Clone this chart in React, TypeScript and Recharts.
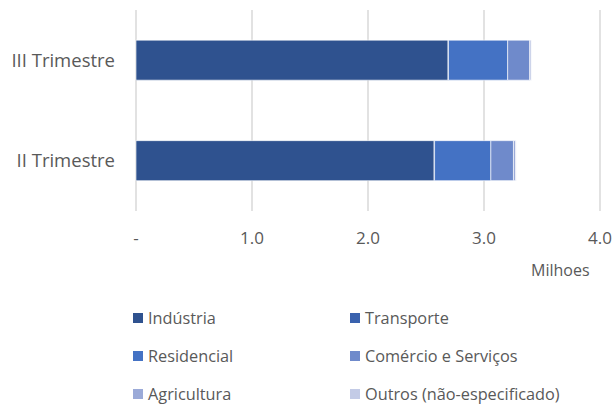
import React from "react";
import { BarChart, Bar, XAxis, YAxis, CartesianGrid } from "recharts";

const categories = ["III Trimestre", "II Trimestre"];
const seriesNames = ["Indústria", "Transporte", "Residencial", "Comércio e Serviços", "Agricultura", "Outros (não-especificado)"];
const seriesKeys = ["ind", "tra", "res", "com", "agr", "out"];
const seriesColors = ["#2F528F", "#3A62AE", "#4472C4", "#6F8ACB", "#9BAAD8", "#C3CBE6"];
const industria = [2.69, 2.57];
const transporte = [0.004, 0.004];
const residencial = [0.51, 0.485];
const comercio = [0.19, 0.195];
const agricultura = [0.012, 0.02];
const outros = [0.003, 0.003];
const xTicks = [0, 1, 2, 3, 4];

const seriesValues = [industria, transporte, residencial, comercio, agricultura, outros];
const data = categories.map((c, i) => {
  const row: any = { name: c };
  seriesKeys.forEach((k, j) => (row[k] = seriesValues[j][i]));
  return row;
});

const FONT = "'Open Sans', Lato, sans-serif";
const GREY = "#595959";

export default function App() {
  return (
    <div style={{ position: "absolute", left: 0, top: 0, width: 614, height: 404, background: "#fff", fontFamily: FONT }}>
      <BarChart
        width={614}
        height={290}
        data={data}
        layout="vertical"
        margin={{ top: 10, right: 14, bottom: 0, left: 0 }}
        barCategoryGap="30%"
      >
        <CartesianGrid horizontal={false} stroke="#D9D9D9" strokeWidth={1.5} />
        <XAxis
          type="number"
          domain={[0, 4]}
          ticks={xTicks}
          axisLine={false}
          tickLine={false}
          height={79}
          tickMargin={15}
          tick={{ fill: GREY, fontSize: 17, fontFamily: FONT }}
          tickFormatter={(v: number) => (v === 0 ? "-" : v.toFixed(1))}
        />
        <YAxis
          type="category"
          dataKey="name"
          width={136}
          axisLine={false}
          tickLine={false}
          tickMargin={15}
          tick={{ fill: GREY, fontSize: 18.5, fontFamily: FONT }}
        />
        {seriesKeys.map((k, j) => (
          <Bar
            key={k}
            dataKey={k}
            stackId="a"
            fill={seriesColors[j]}
            stroke="#ffffff"
            strokeOpacity={0.6}
            strokeWidth={1}
            isAnimationActive={false}
          />
        ))}
      </BarChart>
      <div style={{ position: "absolute", left: 531, top: 259, fontSize: 16, color: GREY }}>Milhoes</div>
      {seriesNames.map((n, j) => {
        const col = j % 2;
        const row = Math.floor(j / 2);
        return (
          <div
            key={n}
            style={{
              position: "absolute",
              left: col === 0 ? 133 : 350,
              top: 318 + row * 38 - 10,
              height: 20,
              display: "flex",
              alignItems: "center",
              fontSize: 16.3,
              color: GREY,
              whiteSpace: "nowrap",
            }}
          >
            <span style={{ display: "inline-block", width: 10, height: 10, background: seriesColors[j], marginRight: 5 }} />
            {n}
          </div>
        );
      })}
    </div>
  );
}
